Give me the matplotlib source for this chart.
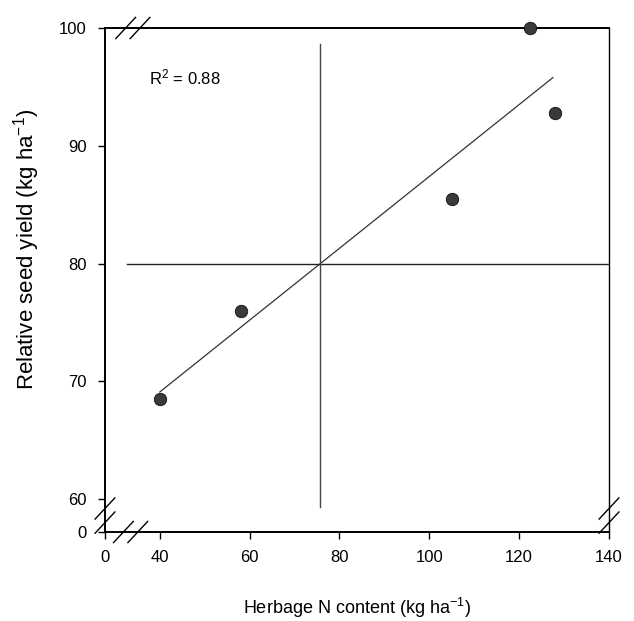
import numpy as np
import matplotlib
matplotlib.use('Agg')
import matplotlib.pyplot as plt

plt.rcParams['font.family'] = ['Liberation Sans', 'DejaVu Sans']
plt.rcParams['mathtext.fontset'] = 'custom'
plt.rcParams['mathtext.rm'] = 'Liberation Sans'
plt.rcParams['mathtext.default'] = 'regular'

# data
herbage_n = [40, 58, 105, 122.5, 128]
seed_yield = [68.5, 76, 85.5, 100, 92.8]
r2_label = 'R$^2$ = 0.88'

x_ticks = [40, 60, 80, 100, 120, 140]
y_ticks = [60, 70, 80, 90, 100]

# broken axes: "0" sits just below the break
x_zero = 27.8
y_zero = 57.2

fig = plt.figure(figsize=(6.34, 6.21), dpi=100)
ax = fig.add_axes([0.1656, 0.1433, 0.795, 0.8116])

# regression line
coef = np.polyfit(herbage_n, seed_yield, 1)
xf = np.array([min(herbage_n), 127.5])
ax.plot(xf, np.polyval(coef, xf), color='#333333', lw=0.9)

# cross lines at y=80 and where the fit hits 80
x80 = (80 - coef[1]) / coef[0]
ax.plot([32.8, 140.3], [80, 80], color='#222222', lw=1.0)
ax.plot([x80, x80], [59.3, 98.6], color='#444444', lw=1.0)

ax.scatter(herbage_n, seed_yield, s=80, color='#3a3a3a', edgecolors='#111111',
           linewidths=0.6, zorder=5, clip_on=False)

ax.text(37.6, 95.8, r2_label, fontsize=12, va='center', ha='left')

ax.set_xlim(x_zero, 140)
ax.set_ylim(y_zero, 100)
ax.set_xticks([x_zero] + x_ticks)
ax.set_xticklabels(['0'] + [str(t) for t in x_ticks])
ax.set_yticks([y_zero] + y_ticks)
ax.set_yticklabels(['0'] + [str(t) for t in y_ticks])
ax.tick_params(direction='out', length=5, width=1, labelsize=12, pad=8)

for side in ['left', 'bottom', 'top']:
    ax.spines[side].set_linewidth(1.4)
ax.spines['right'].set_linewidth(1.0)

ax.set_xlabel('Herbage N content (kg ha$^{-1}$)', fontsize=13, labelpad=22)
ax.set_ylabel('Relative seed yield (kg ha$^{-1}$)', fontsize=16)
ax.yaxis.set_label_coords(-0.125, 0.56)

# break marks (//) on the axes
def slashes(xc, yc, dx, dy, gap, horizontal):
    for k in (-1, 1):
        if horizontal:
            x0 = xc + k * gap
            ax.plot([x0 - dx, x0 + dx], [yc - dy, yc + dy], color='black',
                    lw=1.0, clip_on=False)
        else:
            y0 = yc + k * gap
            ax.plot([xc - dx, xc + dx], [y0 - dy, y0 + dy], color='black',
                    lw=1.0, clip_on=False)

slashes(33.5, y_zero, 2.2, 0.9, 1.6, True)
slashes(34.0, 100, 2.2, 0.9, 1.6, True)
slashes(x_zero, 58.6, 2.2, 0.9, 0.6, False)
slashes(140, 58.6, 2.2, 0.9, 0.6, False)

fig.savefig('out.png', dpi=100)
